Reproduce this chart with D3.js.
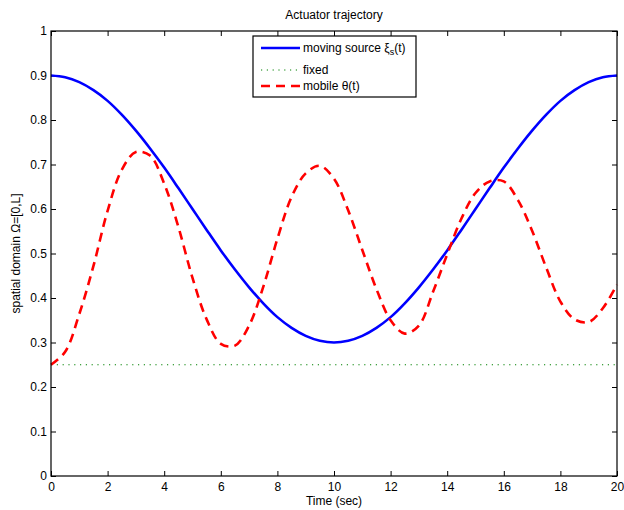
<!DOCTYPE html>
<html>
<head>
<meta charset="utf-8">
<script src="https://cdn.jsdelivr.net/npm/d3@7"></script>
<style>
  body { margin: 0; background: #fff; }
  svg { font-family: "Liberation Sans", Arial, sans-serif; }
</style>
</head>
<body>
<div id="chart"></div>
<script>
// values
var timeSteps = [0, 0.5, 1, 1.5, 2, 2.5, 3, 3.5, 4, 4.5, 5, 5.5, 6, 6.5, 7, 7.5, 8, 8.5, 9, 9.5, 10,
                 10.5, 11, 11.5, 12, 12.5, 13, 13.5, 14, 14.5, 15, 15.5, 16, 16.5, 17, 17.5, 18, 18.5, 19, 19.5, 20];
var sourceValues = [0.900, 0.896, 0.885, 0.867, 0.843, 0.812, 0.776, 0.736, 0.693, 0.647, 0.600,
                    0.553, 0.507, 0.464, 0.424, 0.388, 0.357, 0.333, 0.315, 0.304, 0.300,
                    0.304, 0.315, 0.333, 0.357, 0.388, 0.424, 0.464, 0.507, 0.553, 0.600,
                    0.647, 0.693, 0.736, 0.776, 0.812, 0.843, 0.867, 0.885, 0.896, 0.900];
var mobileValues = [0.250, 0.279, 0.364, 0.472, 0.596, 0.688, 0.728, 0.720, 0.657, 0.560, 0.445,
                    0.352, 0.297, 0.293, 0.338, 0.425, 0.533, 0.627, 0.680, 0.697, 0.668,
                    0.597, 0.508, 0.420, 0.350, 0.320, 0.338, 0.414, 0.498, 0.578, 0.636,
                    0.662, 0.662, 0.620, 0.551, 0.468, 0.392, 0.352, 0.346, 0.377, 0.430];
var fixedTimes = [0, 20];
var fixedValues = [0.25, 0.25];
var xTicks = [0, 2, 4, 6, 8, 10, 12, 14, 16, 18, 20];
var yTicks = [0, 0.1, 0.2, 0.3, 0.4, 0.5, 0.6, 0.7, 0.8, 0.9, 1];
var yTickLabels = ["0", "0.1", "0.2", "0.3", "0.4", "0.5", "0.6", "0.7", "0.8", "0.9", "1"];

const W = 624, H = 510;
const margin = {top: 31, right: 7, bottom: 34, left: 51},
      width = W - margin.left - margin.right,
      height = H - margin.top - margin.bottom;

const svg = d3.select("#chart").append("svg")
    .attr("width", W)
    .attr("height", H);

const g = svg.append("g")
    .attr("transform", `translate(${margin.left},${margin.top})`);

const x = d3.scaleLinear().domain([0, 20]).range([0, width]);
const y = d3.scaleLinear().domain([0, 1]).range([height, 0]);

// axes, ticks pointing inward
g.append("g")
    .attr("transform", `translate(0,${height})`)
    .call(d3.axisBottom(x).tickValues(xTicks).tickSizeInner(-5).tickSizeOuter(0).tickPadding(6));
g.append("g")
    .call(d3.axisTop(x).tickValues(xTicks).tickSizeInner(-5).tickSizeOuter(0).tickFormat(""));
g.append("g")
    .call(d3.axisLeft(y).tickValues(yTicks).tickSizeInner(-5).tickSizeOuter(0).tickPadding(4)
        .tickFormat((d, i) => yTickLabels[i]));
g.append("g")
    .attr("transform", `translate(${width},0)`)
    .call(d3.axisRight(y).tickValues(yTicks).tickSizeInner(-5).tickSizeOuter(0).tickFormat(""));

g.selectAll(".domain").remove();
g.selectAll(".tick line").attr("stroke", "#000");
g.selectAll(".tick text").attr("fill", "#000").style("font-size", "12px");

// data lines
const line = d3.line()
    .x(d => x(d[0]))
    .y(d => y(d[1]));

g.append("path")
    .datum(d3.zip(fixedTimes, fixedValues))
    .attr("fill", "none")
    .attr("stroke", "#008000")
    .attr("stroke-width", 1)
    .attr("stroke-dasharray", "1.2,4.6")
    .attr("d", line);

g.append("path")
    .datum(d3.zip(timeSteps, sourceValues))
    .attr("fill", "none")
    .attr("stroke", "#0000ff")
    .attr("stroke-width", 2.6)
    .attr("d", line.curve(d3.curveCatmullRom));

g.append("path")
    .datum(d3.zip(timeSteps, mobileValues))
    .attr("fill", "none")
    .attr("stroke", "#ff0000")
    .attr("stroke-width", 2.6)
    .attr("stroke-dasharray", "9,6")
    .attr("d", line.curve(d3.curveCatmullRom));

// box
g.append("rect")
    .attr("width", width)
    .attr("height", height)
    .attr("fill", "none")
    .attr("stroke", "#000")
    .attr("stroke-width", 1.2);

// title and labels
svg.append("text")
    .attr("x", margin.left + width / 2)
    .attr("y", 19)
    .attr("text-anchor", "middle")
    .style("font-size", "12px")
    .text("Actuator trajectory");

svg.append("text")
    .attr("x", margin.left + width / 2)
    .attr("y", 505)
    .attr("text-anchor", "middle")
    .style("font-size", "12px")
    .text("Time (sec)");

svg.append("text")
    .attr("transform", `translate(20,${margin.top + height / 2}) rotate(-90)`)
    .attr("text-anchor", "middle")
    .style("font-size", "12px")
    .text("spatial domain \u03A9=[0,L]");

// legend
const legend = svg.append("g").attr("transform", "translate(253,36)");
legend.append("rect")
    .attr("width", 163)
    .attr("height", 61)
    .attr("fill", "#fff")
    .attr("stroke", "#000")
    .attr("stroke-width", 1.2);

const legendItems = [
  {color: "#0000ff", dash: null, width: 2.6, y: 12},
  {color: "#008000", dash: "1.2,4.6", width: 1, y: 34},
  {color: "#ff0000", dash: "9,6", width: 2.6, y: 50}
];
legendItems.forEach(item => {
  legend.append("line")
      .attr("x1", 8).attr("x2", 47)
      .attr("y1", item.y).attr("y2", item.y)
      .attr("stroke", item.color)
      .attr("stroke-width", item.width)
      .attr("stroke-dasharray", item.dash);
});

const t1 = legend.append("text").attr("x", 50).attr("y", 16).style("font-size", "12px");
t1.append("tspan").text("moving source \u03BE");
t1.append("tspan").attr("dy", 3).style("font-size", "9px").text("s");
t1.append("tspan").attr("dy", -3).text("(t)");

legend.append("text").attr("x", 50).attr("y", 38).style("font-size", "12px").text("fixed");
legend.append("text").attr("x", 50).attr("y", 54).style("font-size", "12px").text("mobile \u03B8(t)");
</script>
</body>
</html>
